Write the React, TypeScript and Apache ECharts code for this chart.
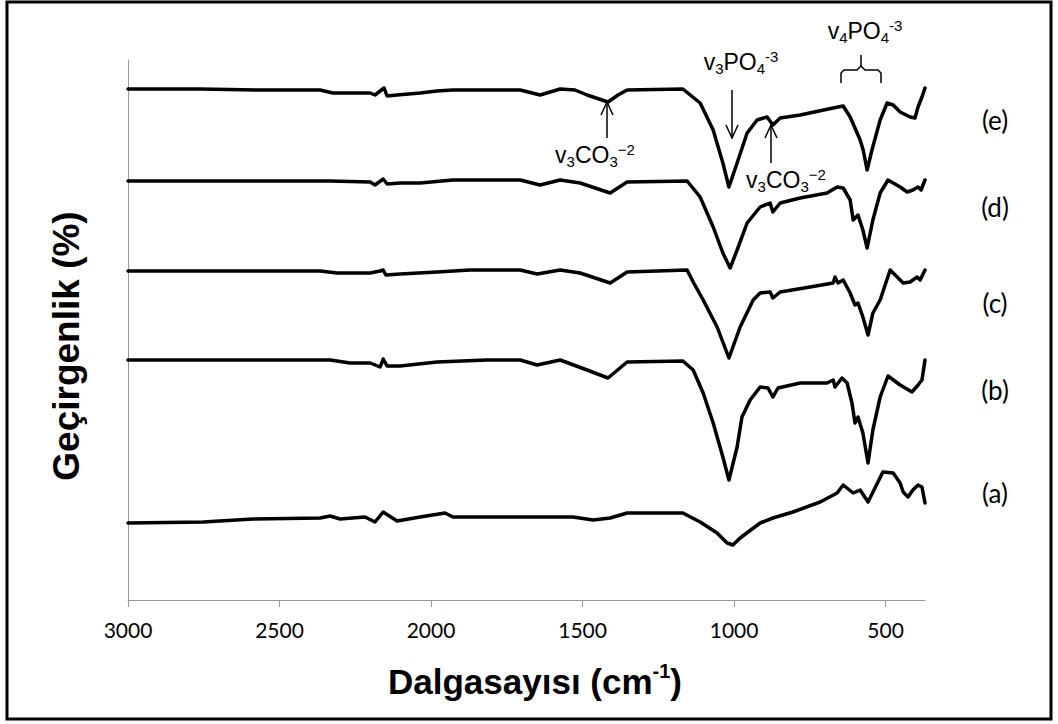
import React, { useEffect, useRef } from "react";
import * as echarts from "echarts";

// Wavenumber (cm-1) and transmittance (offset, arbitrary %) for each spectrum
const waveE = [3000, 2762, 2564, 2366, 2324, 2201, 2185, 2168, 2155, 2145, 2112, 2036, 1980, 1928, 1706, 1640, 1574, 1525, 1485, 1416, 1383, 1353, 1169, 1112, 1069, 1037, 1017, 990, 957, 924, 891, 872, 848, 782, 673, 640, 617, 594, 584, 574, 561, 545, 518, 495, 475, 452, 419, 403, 393, 380, 370];
const transE = [102.2, 102.2, 102.0, 102.0, 101.4, 101.4, 101.0, 101.8, 102.4, 100.8, 101.0, 101.4, 101.8, 102.0, 102.0, 101.0, 102.2, 102.0, 101.0, 99.6, 101.0, 102.0, 102.2, 99.4, 94.0, 87.4, 82.6, 87.4, 93.4, 96.0, 96.6, 95.0, 96.4, 97.0, 98.4, 98.8, 96.6, 93.4, 92.0, 90.0, 86.0, 90.0, 96.0, 99.4, 99.0, 97.6, 96.6, 96.4, 98.6, 100.6, 102.4];

const waveD = [3000, 2564, 2333, 2201, 2185, 2158, 2145, 2102, 2036, 1928, 1706, 1640, 1574, 1508, 1409, 1353, 1155, 1112, 1069, 1037, 1013, 990, 957, 914, 881, 872, 848, 782, 693, 660, 640, 617, 607, 591, 575, 561, 542, 518, 492, 452, 429, 410, 393, 383, 370];
const transD = [83.8, 83.8, 83.8, 83.6, 83.0, 84.2, 83.2, 83.4, 83.4, 84.0, 84.0, 83.0, 84.0, 83.4, 81.4, 83.6, 83.8, 80.6, 74.6, 69.4, 66.4, 70.0, 75.4, 78.6, 79.4, 77.6, 79.4, 80.4, 81.4, 82.6, 82.4, 80.0, 76.0, 77.0, 74.0, 70.4, 76.0, 81.4, 84.0, 82.6, 81.6, 82.0, 82.6, 82.0, 84.0];

const waveC = [3000, 2366, 2310, 2201, 2168, 2158, 2149, 2102, 1980, 1871, 1706, 1650, 1574, 1508, 1409, 1353, 1155, 1135, 1102, 1056, 1017, 980, 937, 914, 881, 872, 848, 749, 673, 667, 657, 640, 617, 601, 591, 575, 558, 542, 518, 485, 442, 419, 396, 386, 370];
const transC = [65.8, 65.8, 65.4, 65.4, 65.8, 66.0, 65.0, 65.2, 65.6, 66.0, 66.0, 65.2, 66.0, 65.4, 63.4, 65.6, 66.0, 63.6, 60.0, 54.6, 48.4, 54.6, 60.0, 61.4, 61.6, 60.4, 61.6, 62.6, 63.4, 64.6, 63.4, 64.0, 61.4, 59.0, 59.4, 56.6, 53.0, 57.4, 60.0, 66.0, 63.4, 63.6, 64.6, 64.0, 66.0];

const waveB = [3000, 2333, 2267, 2201, 2168, 2158, 2145, 2102, 1980, 1815, 1706, 1650, 1574, 1485, 1416, 1353, 1169, 1135, 1102, 1069, 1037, 1017, 990, 974, 947, 914, 888, 872, 855, 782, 693, 673, 667, 644, 627, 611, 601, 591, 575, 558, 542, 518, 492, 452, 413, 393, 380, 370];
const transB = [48.0, 48.0, 47.4, 47.4, 46.6, 48.2, 46.8, 46.8, 47.6, 48.0, 48.0, 47.0, 48.0, 46.0, 44.4, 47.6, 47.8, 46.0, 41.4, 35.4, 28.6, 24.0, 30.6, 36.6, 40.0, 42.6, 42.4, 40.6, 42.4, 43.4, 43.4, 44.0, 42.6, 44.4, 43.4, 39.4, 35.4, 36.6, 33.4, 27.4, 34.0, 40.6, 44.8, 43.0, 41.6, 43.0, 44.0, 48.0];

const waveA = [3000, 2752, 2588, 2366, 2333, 2300, 2218, 2185, 2158, 2112, 2036, 1954, 1928, 1706, 1532, 1465, 1409, 1353, 1169, 1112, 1056, 1023, 1004, 980, 914, 872, 806, 716, 660, 640, 607, 584, 558, 509, 475, 452, 442, 426, 410, 393, 380, 370];
const transA = [15.4, 15.6, 16.2, 16.4, 16.8, 16.2, 16.6, 15.6, 17.6, 15.8, 16.6, 17.4, 16.6, 16.6, 16.6, 16.0, 16.4, 17.4, 17.4, 15.6, 13.4, 11.4, 11.0, 12.4, 15.4, 16.4, 17.6, 19.6, 21.4, 23.0, 21.4, 22.0, 19.6, 25.6, 25.4, 23.4, 21.6, 20.6, 22.0, 23.0, 22.6, 19.4];

const seriesNames = ["(e)", "(d)", "(c)", "(b)", "(a)"];
const xTicks = [3000, 2500, 2000, 1500, 1000, 500];

const zip = (w: number[], t: number[]) => w.map((x, i) => [x, t[i]]);

export default function App() {
  const ref = useRef<HTMLDivElement>(null);
  useEffect(() => {
    if (!ref.current) return;
    const chart = echarts.init(ref.current, undefined, { renderer: "svg" });
    const data = [zip(waveE, transE), zip(waveD, transD), zip(waveC, transC), zip(waveB, transB), zip(waveA, transA)];
    const labelY = [120, 207, 303, 390, 493];
    const annFont = "Liberation Sans, Arial, sans-serif";
    const rich = {
      n: { fontSize: 23, fontFamily: annFont, lineHeight: 27, verticalAlign: "middle" as const, fill: "#000" },
      sub: { fontSize: 15, fontFamily: annFont, lineHeight: 15, verticalAlign: "bottom" as const, fill: "#000" },
      sup: { fontSize: 15, fontFamily: annFont, lineHeight: 15, verticalAlign: "top" as const, fill: "#000" },
    };
    const annText = (x: number, y: number, text: string) => ({
      type: "text", x, y,
      style: { text, rich, align: "center", verticalAlign: "middle", fill: "#000" },
    });
    const arrow = (x: number, y1: number, y2: number, headUp: boolean) => [
      { type: "line", shape: { x1: x, y1, x2: x, y2 }, style: { stroke: "#000", lineWidth: 1.5 } },
      {
        type: "polyline",
        shape: headUp
          ? { points: [[x - 6, y1 + 13], [x, y1], [x + 6, y1 + 13]] }
          : { points: [[x - 6, y2 - 13], [x, y2], [x + 6, y2 - 13]] },
        style: { stroke: "#000", lineWidth: 1.5, fill: "none" },
      },
    ];
    chart.setOption({
      animation: false,
      backgroundColor: "#fff",
      grid: { left: 128, right: 133, top: 60, bottom: 124 },
      xAxis: {
        type: "value", min: 370, max: 3000, inverse: true,
        axisLine: { show: true, lineStyle: { color: "#9a9a9a", width: 1 } },
        axisTick: { show: true, length: 7, lineStyle: { color: "#9a9a9a" }, customValues: xTicks },
        axisLabel: {
          customValues: xTicks, fontSize: 21, fontFamily: "Lato, sans-serif", color: "#000", margin: 19,
          formatter: (v: number) => String(v),
        },
        splitLine: { show: false },
      },
      yAxis: {
        type: "value", min: 0, max: 108,
        axisLine: { show: true, lineStyle: { color: "#9a9a9a", width: 1 } },
        axisTick: { show: false }, axisLabel: { show: false }, splitLine: { show: false },
      },
      series: data.map((d, i) => ({
        name: seriesNames[i], type: "line", data: d, showSymbol: false,
        lineStyle: { color: "#000", width: 3.5, join: "round", cap: "round" },
      })),
      graphic: [
        { type: "rect", shape: { x: 7, y: 2, width: 1044, height: 717 }, style: { fill: "none", stroke: "#000", lineWidth: 3 } },
        {
          type: "text", x: 535, y: 681,
          style: {
            text: "{t|Dalgasayısı (cm}{s|-1}{t|)}", align: "center", verticalAlign: "middle",
            rich: {
              t: { fontSize: 35, fontWeight: "bold", fontFamily: annFont, lineHeight: 40, verticalAlign: "middle", fill: "#000" },
              s: { fontSize: 20, fontWeight: "bold", fontFamily: annFont, lineHeight: 20, verticalAlign: "top", fill: "#000" },
            },
          },
        },
        {
          type: "text", x: 66, y: 346, rotation: Math.PI / 2,
          style: { text: "Geçirgenlik (%)", align: "center", verticalAlign: "middle", fontSize: 37, fontWeight: "bold", fontFamily: annFont, fill: "#000" },
        },
        ...seriesNames.map((n, i) => ({
          type: "text", x: 995, y: labelY[i],
          style: { text: n, align: "center", verticalAlign: "middle", fontSize: 26, fontFamily: "Lato, sans-serif", fill: "#000" },
        })),
        ...arrow(607, 102, 138, true),
        ...arrow(732, 90, 138, false),
        ...arrow(771, 125, 163, true),
        annText(595, 155, "{n|v}{sub|3}{n|CO}{sub|3}{sup|−2}"),
        annText(741, 62, "{n|v}{sub|3}{n|PO}{sub|4}{sup|-3}"),
        annText(786, 180, "{n|v}{sub|3}{n|CO}{sub|3}{sup|−2}"),
        annText(865, 31, "{n|v}{sub|4}{n|PO}{sub|4}{sup|-3}"),
        {
          type: "polyline",
          shape: { points: [[841, 83], [841, 73], [844, 70], [857, 70], [861, 66], [861, 55]] },
          style: { stroke: "#000", lineWidth: 1.5, fill: "none" },
        },
        {
          type: "polyline",
          shape: { points: [[881, 83], [881, 73], [878, 70], [865, 70], [861, 66]] },
          style: { stroke: "#000", lineWidth: 1.5, fill: "none" },
        },
      ],
    });
    return () => chart.dispose();
  }, []);
  return <div ref={ref} style={{ position: "absolute", left: 0, top: 0, width: 1058, height: 724 }} />;
}
